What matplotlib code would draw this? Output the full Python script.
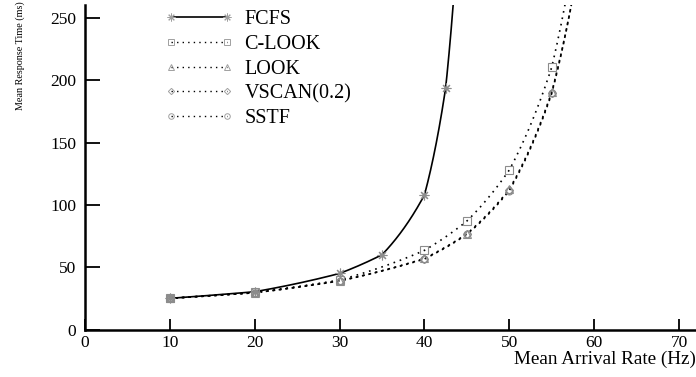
import matplotlib
matplotlib.use("Agg")
import matplotlib.pyplot as plt
import numpy as np
from matplotlib.lines import Line2D

plt.rcParams['font.family'] = ['Liberation Serif', 'DejaVu Serif']

# arrival rates (Hz) where each scheduler was measured
rate = [10, 20, 30, 35, 40, 42.5, 45, 50, 55]

# mean response times (ms); None = not measured
fcfs   = [25, 30.3, 45, 60, 108, 194, None, None, None]
clook  = [25, 29.8, 39.7, None, 63.5, None, 87, 128, 210.5]
look   = [25, 29.5, 39, None, 57, None, 76.8, 112.5, 190.5]
vscan  = [25, 29.5, 39, None, 56.8, None, 76.5, 112, 190]
sstf   = [25, 29.5, 39, None, 56.6, None, 76.3, 111.5, 189.5]

# where each curve runs off the top of the plot (rate, ms)
fcfs_end  = (43.4, 262)
clook_end = (56.6, 262)
low_end   = (57.35, 262)

dots = (1, 2.9)
series = [
    ("FCFS", fcfs, fcfs_end, (8, 2, 0), '-'),
    ("C-LOOK", clook, clook_end, 's', (0, dots)),
    ("LOOK", look, low_end, '^', (0, dots)),
    ("VSCAN(0.2)", vscan, low_end, 'D', (0.4, dots)),
    ("SSTF", sstf, low_end, 'o', (0.8, dots)),
]

mcol = '#8c8c8c'
msize = {'s': 5.5, '^': 5.5, 'D': 4.0, 'o': 5.0}

fig = plt.figure(figsize=(6.96, 3.77), dpi=100)
ax = fig.add_axes([85 / 696, 1 - 329.5 / 377, 1 - 85 / 696, 324.5 / 377])

handles = []
for name, vals, end, mk, ls in series:
    xs = np.array([r for r, v in zip(rate, vals) if v is not None] + [end[0]])
    ys = np.array([v for v in vals if v is not None] + [end[1]])
    # smooth curve: interpolate in log space between the measured points
    xx = np.linspace(xs[0], xs[-1], 400)
    yy = np.exp(np.interp(xx, xs, np.log(ys)))
    ax.plot(xx, yy, color='black', lw=1.2, linestyle=ls, clip_on=True,
            solid_capstyle='butt')
    ms = msize.get(mk, 7) if isinstance(mk, str) else 7
    ax.plot(xs[:-1], ys[:-1], linestyle='none', marker=mk, ms=ms,
            mfc='none', mec=mcol, mew=0.8, clip_on=False, zorder=3)
    handles.append(Line2D([], [], color='black', lw=1.2 if ls == '-' else 1.0,
                          linestyle='-' if ls == '-' else (0, (1, 3)),
                          marker=mk, ms=ms * 0.8, mfc='none', mec='#a0a0a0',
                          mew=0.7, label=name))

ax.set_xlim(0, 72.0)
ax.set_ylim(0, 260.4)
ax.set_xticks([0, 10, 20, 30, 40, 50, 60, 70])
ax.set_yticks([0, 50, 100, 150, 200, 250])
ax.spines['top'].set_visible(False)
ax.spines['right'].set_visible(False)
ax.spines['left'].set_linewidth(1.8)
ax.spines['bottom'].set_linewidth(1.8)
ax.tick_params(axis='x', direction='in', length=8, width=1.3,
               labelsize=12.5, pad=4)
ax.tick_params(axis='y', direction='in', length=11, width=1.3,
               labelsize=12.5, pad=6.5)

fig.text(1.0, 1 - 359 / 377, "Mean Arrival Rate (Hz)", ha='right',
         va='center', fontsize=13.8)
fig.text(20 / 696, 1 - 56 / 377, "Mean Response Time (ms)", rotation=90,
         ha='center', va='center', fontsize=7.3)

ax.legend(handles=handles, loc='upper left', frameon=False, numpoints=2,
          bbox_to_anchor=(165 / 696, 1 - 10 / 377),
          bbox_transform=fig.transFigure, fontsize=14.5, handlelength=3.4,
          handletextpad=0.55, labelspacing=0.28, borderpad=0, borderaxespad=0)

fig.savefig("out.png", dpi=100)
